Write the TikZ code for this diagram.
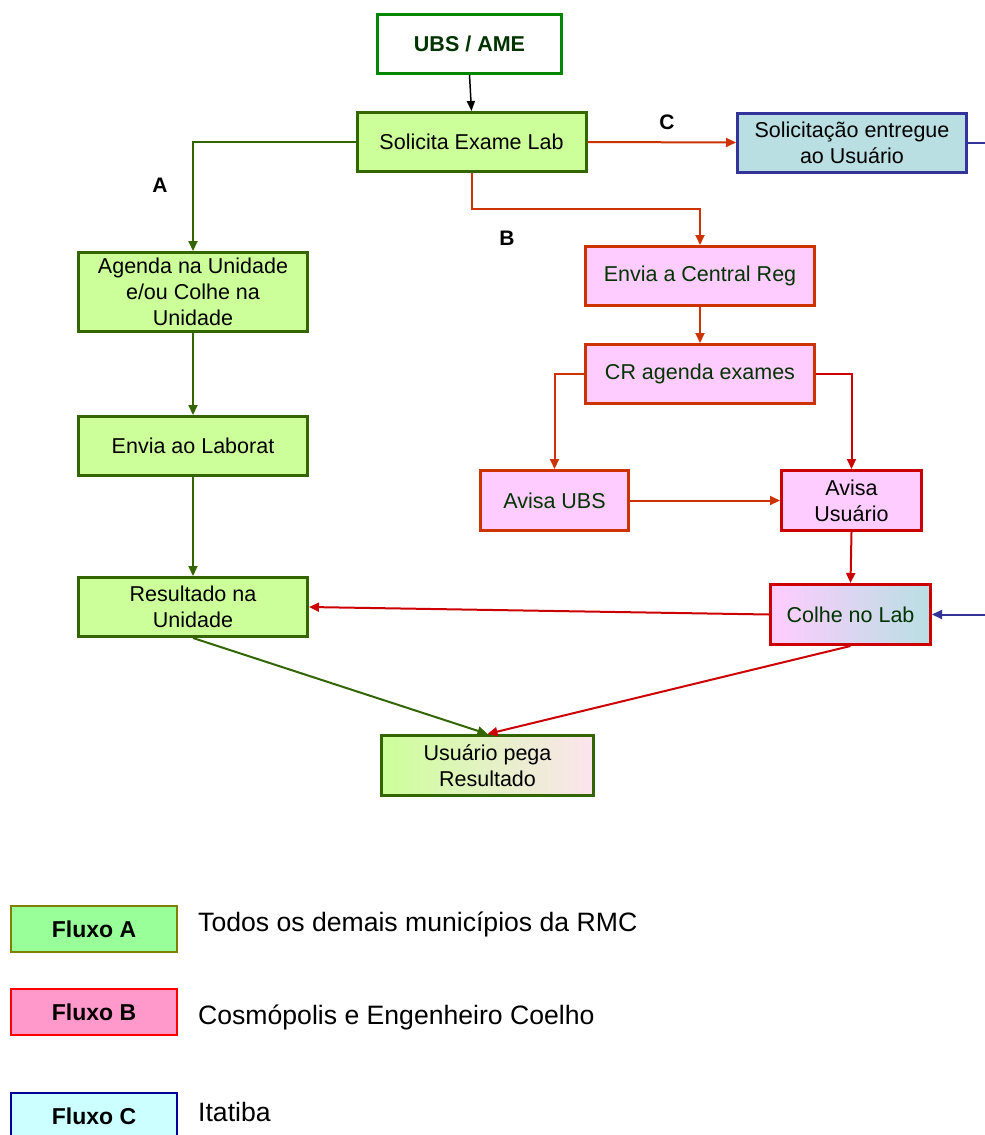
\documentclass[tikz,border=0pt]{standalone}
\usepackage{fontspec}
\setmainfont{Liberation Sans}
\usetikzlibrary{arrows.meta,shadings}

% palette
\definecolor{boxgreen}{RGB}{204,255,153}
\definecolor{edgegreen}{RGB}{51,102,0}
\definecolor{ubsgreen}{RGB}{0,135,0}
\definecolor{darktext}{RGB}{0,51,0}
\definecolor{boxpink}{RGB}{255,204,255}
\definecolor{edgeorange}{RGB}{204,51,0}
\definecolor{edgered}{RGB}{204,0,0}
\definecolor{boxteal}{RGB}{185,223,227}
\definecolor{edgeblue}{RGB}{51,51,153}
\definecolor{fadepink}{RGB}{252,228,238}
\definecolor{legA}{RGB}{153,255,153}
\definecolor{legAedge}{RGB}{128,128,0}
\definecolor{legB}{RGB}{255,153,204}
\definecolor{legBedge}{RGB}{255,0,0}
\definecolor{legC}{RGB}{204,255,255}
\definecolor{legCedge}{RGB}{0,0,153}

\newcommand\flowfont{\fontsize{21.5}{26}\selectfont}
\newcommand\legfont{\fontsize{26.6}{30}\selectfont}

\tikzset{
  flowbox/.style={draw, line width=3pt, inner sep=2pt, align=center,
    font=\flowfont, minimum width=229pt, minimum height=59pt},
  greenbox/.style={flowbox, fill=boxgreen, draw=edgegreen, text=black},
  pinkbox/.style={flowbox, fill=boxpink, draw=edgeorange, text=darktext},
  legbox/.style={draw, line width=2pt, minimum width=166pt, minimum height=46pt,
    font=\fontsize{23}{26}\selectfont\bfseries},
  legtext/.style={anchor=west, font=\legfont, inner sep=0pt},
  flowlabel/.style={font=\fontsize{21}{24}\selectfont\bfseries},
  conn/.style={line width=2pt, -{Triangle[length=10pt,width=9pt]}},
  gline/.style={conn, draw=edgegreen},
  oline/.style={conn, draw=edgeorange},
  rline/.style={conn, draw=edgered},
  bline/.style={conn, draw=edgeblue},
}

\begin{document}
\begin{tikzpicture}[x=1pt,y=-1pt]
\useasboundingbox (0,0) rectangle (985,1135);

% boxes of the flow
\node[flowbox, draw=ubsgreen, fill=white, text=darktext, font=\flowfont\bfseries,
      minimum width=184pt] (ubs) at (469.5,44) {UBS / AME};
\node[greenbox] (sol) at (471.5,142) {Solicita Exame Lab};
\node[flowbox, fill=boxteal, draw=edgeblue, text=black] (ent) at (852,142.5)
      {Solicitação entregue\\ao Usuário};

\node[greenbox, minimum height=79pt] (age) at (193,292)
      {Agenda na Unidade\\e/ou Colhe na\\Unidade};
\node[greenbox] (lab) at (193,446) {Envia ao Laborat};
\node[greenbox] (res) at (193,607) {Resultado na\\Unidade};
\node[flowbox, draw=edgegreen, left color=boxgreen, right color=fadepink,
      text=black, minimum width=212pt, minimum height=60pt] (usu) at (487.5,765.5)
      {Usuário pega\\Resultado};

\node[pinkbox] (ecr) at (700,276) {Envia a Central Reg};
\node[pinkbox] (cra) at (700,374) {CR agenda exames};
\node[pinkbox, minimum width=148pt, minimum height=60pt] (avu) at (554.5,500.5) {Avisa UBS};
\node[pinkbox, draw=edgered, text=black, minimum width=140pt, minimum height=60pt]
      (avs) at (851.5,500.5) {Avisa\\Usuário};
\node[flowbox, draw=edgered, left color=boxpink, right color=boxteal, text=darktext,
      minimum width=160pt, minimum height=60pt] (col) at (850.5,614.5) {Colhe no Lab};

% connectors
\draw[line width=1.5pt, -{Triangle[length=10pt,width=8pt]}] (ubs.south) -- (sol.north);

\draw[gline] (sol.west) -| (age.north);
\draw[gline] (age.south) -- (lab.north);
\draw[gline] (lab.south) -- (res.north);
\draw[gline] (res.south) -- (usu.north);

\draw[oline] (sol.south) -- ++(0,36) -| (ecr.north);
\draw[oline] (sol.east) -- (ent.west);
\draw[oline] (ecr.south) -- (cra.north);
\draw[oline] (cra.west) -| (avu.north);
\draw[rline] (cra.east) -| (avs.north);
\draw[oline] (avu.east) -- (avs.west);
\draw[rline] (avs.south) -- (col.north);
\draw[rline] (col.west) -- (res.east);
\draw[rline] (col.south) -- (usu.north);

\draw[bline] (ent.east) -- ++(40,0) |- (col.east);

% flow labels
\node[flowlabel] (la) at (160,185) {A};
\node[flowlabel] (lb) at (507,238) {B};
\node[flowlabel] (lc) at (667,122) {C};

% legend
\node[legbox, fill=legA, draw=legAedge] (fa) at (94,929) {Fluxo A};
\node[legbox, fill=legB, draw=legBedge] (fb) at (94,1012) {Fluxo B};
\node[legbox, fill=legC, draw=legCedge] (fc) at (94,1116) {Fluxo C};
\node[legtext] (ta) at (198,924) {Todos os demais municípios da RMC};
\node[legtext] (tb) at (198,1017) {Cosmópolis e Engenheiro Coelho};
\node[legtext] (tc) at (198,1112) {Itatiba};
\end{tikzpicture}
\end{document}
